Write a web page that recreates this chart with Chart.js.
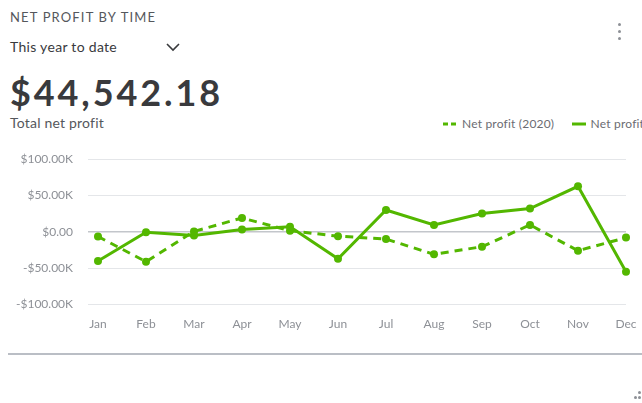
<!DOCTYPE html>
<html>
<head>
<meta charset="utf-8">
<script src="https://cdn.jsdelivr.net/npm/chart.js@4/dist/chart.umd.min.js"></script>
<style>
  html,body{margin:0;padding:0;background:#fff;width:642px;height:403px;overflow:hidden;font-family:Lato,"Open Sans",sans-serif;}
  .abs{position:absolute;}
  #title{left:10px;top:9px;font-size:13px;letter-spacing:1.15px;color:#55575c;}
  #period{left:10px;top:38px;font-size:14px;letter-spacing:0.3px;color:#393a3d;}
  #chev{left:165px;top:41px;}
  #big{left:10px;top:70px;font-size:36px;font-weight:700;color:#393a3d;letter-spacing:2.9px;}
  #sub{left:10px;top:114px;font-size:14px;letter-spacing:0.2px;color:#55575c;}
  #legend{left:443px;top:115px;font-size:12px;letter-spacing:0.2px;color:#6b6c72;white-space:nowrap;}
  .lg{display:inline-block;vertical-align:middle;}
  .dot{position:absolute;width:3px;height:3px;border-radius:50%;background:#8d9096;}
  #sep{left:8px;top:353px;width:634px;height:2px;background:#babec5;}
  #wrap{left:0;top:140px;width:642px;height:214px;}
</style>
</head>
<body>
<div id="title" class="abs">NET PROFIT BY TIME</div>
<div id="period" class="abs">This year to date</div>
<svg id="chev" class="abs" width="16" height="12" viewBox="0 0 16 12"><polyline points="2,3 8,9 14,3" fill="none" stroke="#393a3d" stroke-width="1.6"/></svg>
<div id="big" class="abs">$44,542.18</div>
<div id="sub" class="abs">Total net profit</div>
<div id="legend" class="abs">
  <svg class="lg" width="14" height="4"><line x1="0" y1="2" x2="14" y2="2" stroke="#53b700" stroke-width="3" stroke-dasharray="5,3"/></svg><span class="lg" style="margin-left:5px;">Net profit (2020)</span>
  <svg class="lg" width="14" height="4" style="margin-left:14px;"><line x1="0" y1="2" x2="14" y2="2" stroke="#53b700" stroke-width="3"/></svg><span class="lg" style="margin-left:5px;">Net profit</span>
</div>
<div class="dot" style="left:618px;top:23px;"></div>
<div class="dot" style="left:618px;top:30px;"></div>
<div class="dot" style="left:618px;top:37px;"></div>
<div id="sep" class="abs"></div>
<div class="dot" style="left:638px;top:391px;"></div>
<div class="dot" style="left:634px;top:396px;"></div>
<div class="dot" style="left:638px;top:396px;"></div>
<div id="wrap" class="abs"><canvas id="c"></canvas></div>
<script>
const months = ["Jan","Feb","Mar","Apr","May","Jun","Jul","Aug","Sep","Oct","Nov","Dec"];
const netProfit2020 = [-6500, -41000, 500, 19000, 1500, -6000, -10000, -31000, -20500, 9500, -26000, -8000];
const netProfit = [-40000, -500, -5000, 3000, 7000, -37000, 30000, 9500, 25000, 32000, 62500, -55000];
const yTicks = [-100000, -50000, 0, 50000, 100000];

const green = '#53b700';
function fmt(v){
  if (v === 0) return '$0.00';
  const s = '$' + (Math.abs(v)/1000).toFixed(2) + 'K';
  return v < 0 ? '-' + s : s;
}

new Chart(document.getElementById('c'), {
  type: 'line',
  data: {
    labels: months,
    datasets: [
      {
        label: 'Net profit',
        data: netProfit,
        borderColor: green,
        backgroundColor: green,
        borderWidth: 3,
        pointRadius: 4,
        pointBorderWidth: 0,
        pointBackgroundColor: green,
        tension: 0
      },
      {
        label: 'Net profit (2020)',
        data: netProfit2020,
        borderColor: green,
        backgroundColor: green,
        borderWidth: 3,
        borderDash: [8, 6],
        pointRadius: 4,
        pointBorderWidth: 0,
        pointBackgroundColor: green,
        tension: 0
      }
    ]
  },
  options: {
    responsive: true,
    maintainAspectRatio: false,
    animation: false,
    layout: { padding: { top: 19, right: 16, bottom: 11, left: 0 } },
    plugins: { legend: { display: false }, tooltip: { enabled: false } },
    scales: {
      x: {
        offset: false,
        afterFit: (s) => { s.paddingLeft = 0; s.paddingRight = 0; },
        grid: { display: false, drawTicks: false },
        border: { display: false },
        ticks: { color: '#8d9096', font: { family: 'Lato', size: 12 }, padding: 12, maxRotation: 0, autoSkip: false }
      },
      y: {
        min: -100000,
        max: 100000,
        afterBuildTicks: (s) => { s.ticks = yTicks.map(v => ({ value: v })); },
        afterFit: (s) => { s.width = 98; s.paddingTop = 0; s.paddingBottom = 0; },
        border: { display: false },
        grid: {
          color: (ctx) => (ctx.tick && ctx.tick.value === 0) ? '#c3c6cb' : '#e4e6e9',
          lineWidth: (ctx) => (ctx.tick && ctx.tick.value === 0) ? 1.5 : 1,
          drawTicks: true,
          tickLength: 10,
          tickColor: (ctx) => (ctx.tick && ctx.tick.value === 0) ? '#c3c6cb' : '#e4e6e9'
        },
        ticks: { color: '#8d9096', font: { family: 'Lato', size: 12 }, padding: 15, callback: (v) => fmt(v) }
      }
    }
  }
});
</script>
</body>
</html>
